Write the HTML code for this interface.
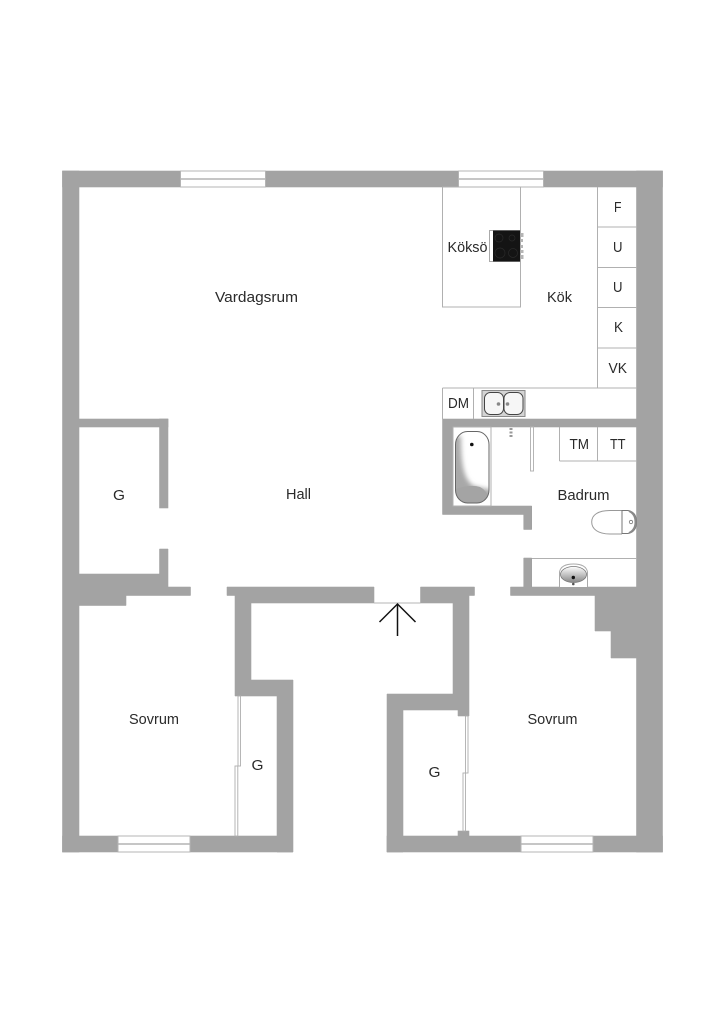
<!DOCTYPE html>
<html>
<head>
<meta charset="utf-8">
<style>
html,body{margin:0;padding:0;background:#fff;width:724px;height:1024px;overflow:hidden}
svg{display:block}
text{font-family:"Liberation Sans",sans-serif;font-size:15px;fill:#2a2a2a}
</style>
</head>
<body>
<svg width="724" height="1024" viewBox="0 0 724 1024" xmlns="http://www.w3.org/2000/svg">
<defs>
<linearGradient id="sk" x1="0" y1="0" x2="0" y2="1">
<stop offset="0" stop-color="#fff"/><stop offset="1" stop-color="#888"/>
</linearGradient>
<filter id="soft" x="-30%" y="-30%" width="160%" height="160%"><feGaussianBlur stdDeviation="2.500"/></filter>
<clipPath id="tubclip"><rect x="455.500" y="431.500" width="33.500" height="71.500" rx="12" ry="13"/></clipPath>
<g id="w">
<!-- outer -->
<rect x="62.500" y="171" width="600" height="16"/>
<rect x="62.500" y="171" width="16.500" height="681"/>
<rect x="636.500" y="171" width="26" height="681"/>
<rect x="62.500" y="836" width="230" height="16"/>
<rect x="387" y="836" width="275.500" height="16"/>
<!-- left closet -->
<rect x="79" y="419" width="89" height="8"/>
<rect x="159.500" y="419" width="8.500" height="89"/>
<polygon points="79,574 159.500,574 159.500,549 168,549 168,587 190.500,587 190.500,595.500 126,595.500 126,605.500 79,605.500"/>
<!-- hall lower -->
<polygon points="227,587 374,587 374,603 251,603 251,680 293,680 293,852 277,852 277,696 235,696 235,595.500 227,595.500"/>
<polygon points="420.500,587 474.500,587 474.500,595.500 469,595.500 469,716 458,716 458,710 403,710 403,852 387,852 387,694 453,694 453,603 420.500,603"/>
<rect x="458" y="831" width="11" height="6"/>
<!-- bath walls -->
<polygon points="442.500,419 637,419 637,427 453,427 453,506 531.700,506 531.700,529.500 523.700,529.500 523.700,514.500 442.500,514.500"/>
<polygon points="523.700,558 531.700,558 531.700,587 637,587 637,595.500 510.500,595.500 510.500,587 523.700,587"/>
<polygon points="595,595 637,595 637,658 611,658 611,631 595,631"/>
</g>
</defs>
<rect width="724" height="1024" fill="#fff"/>

<!-- walls -->
<use href="#w" fill="#969696" stroke="#969696" stroke-width=".5"/>
<use href="#w" fill="#a3a3a3"/>

<!-- windows -->
<g fill="#fff" stroke="#b4b4b4" stroke-width="1">
<rect x="180.500" y="171" width="85" height="16"/>
<rect x="458.500" y="171" width="85" height="16"/>
<rect x="118" y="836" width="72" height="16"/>
<rect x="521" y="836" width="72" height="16"/>
</g>
<g stroke="#b4b4b4" stroke-width="1.500">
<line x1="181" y1="179" x2="265" y2="179"/>
<line x1="459" y1="179" x2="543" y2="179"/>
<line x1="118" y1="844" x2="190" y2="844"/>
<line x1="521" y1="844" x2="593" y2="844"/>
</g>

<!-- kitchen fixtures -->
<g fill="none" stroke="#b0b0b0" stroke-width="1">
<rect x="442.500" y="187" width="78" height="120"/>
<line x1="597.500" y1="187" x2="597.500" y2="388"/>
<line x1="597.500" y1="227" x2="637" y2="227"/>
<line x1="597.500" y1="267.500" x2="637" y2="267.500"/>
<line x1="597.500" y1="307.500" x2="637" y2="307.500"/>
<line x1="597.500" y1="348" x2="637" y2="348"/>
<line x1="442.500" y1="388" x2="637" y2="388"/>
<line x1="442.500" y1="388" x2="442.500" y2="419"/>
<line x1="473.500" y1="388" x2="473.500" y2="419"/>
</g>

<!-- stove -->
<rect x="489.500" y="230.500" width="31" height="31" fill="#fff" stroke="#aaa" stroke-width="1"/>
<rect x="493" y="230.500" width="27" height="31" fill="#141414"/>
<g fill="none" stroke="#2a2a2a" stroke-width=".7">
<circle cx="499" cy="238" r="4"/><circle cx="512" cy="238" r="3"/>
<circle cx="500" cy="253" r="5"/><circle cx="513" cy="253" r="4.500"/>
</g>
<g fill="#b5b5b5">
<rect x="520.500" y="233" width="3" height="4"/><rect x="520.500" y="239" width="2.500" height="3"/>
<rect x="520.500" y="245" width="2.500" height="3"/><rect x="520.500" y="250" width="3" height="3"/><rect x="520.500" y="255" width="3" height="4"/>
</g>

<!-- kitchen sink -->
<rect x="482" y="390.500" width="43" height="26" fill="#d4d4d4" stroke="#8a8a8a" stroke-width="1"/>
<rect x="484.500" y="392.500" width="19" height="22" rx="6" fill="#f6f6f6" stroke="#444" stroke-width="1"/>
<rect x="504" y="392.500" width="19" height="22" rx="6" fill="#f6f6f6" stroke="#444" stroke-width="1"/>
<circle cx="498.500" cy="404" r="1.800" fill="#888"/>
<circle cx="507.500" cy="404" r="1.800" fill="#888"/>

<!-- bathroom -->
<g fill="none" stroke="#b0b0b0" stroke-width="1">
<rect x="453" y="427" width="38" height="79"/>
<line x1="559.500" y1="427" x2="559.500" y2="461"/>
<line x1="559.500" y1="461" x2="637" y2="461"/>
<line x1="597.500" y1="427" x2="597.500" y2="461"/>
<line x1="532" y1="558.500" x2="637" y2="558.500"/>
</g>
<rect x="530.500" y="427" width="3" height="44" fill="#fff" stroke="#b5b5b5" stroke-width="1"/>
<!-- bathtub -->
<rect x="455.500" y="431.500" width="33.500" height="71.500" rx="12" ry="13" fill="#fff"/>
<g clip-path="url(#tubclip)">
<path d="M452 436 L461 436 C461 465 464 480 474 486 L492 490 L492 510 L452 510Z" fill="#a8a8a8" filter="url(#soft)"/>
<path d="M456 489 Q470 484 480 487 Q486 490 489 498 L489 504 L456 504Z" fill="#a4a4a4"/>
</g>
<rect x="455.500" y="431.500" width="33.500" height="71.500" rx="12" ry="13" fill="none" stroke="#666" stroke-width="1"/>
<circle cx="471.800" cy="444.500" r="1.800" fill="#111"/>
<!-- shower fitting -->
<g fill="#999"><rect x="509.500" y="428" width="3" height="2"/><rect x="509.500" y="431.500" width="3" height="2"/><rect x="509.500" y="435" width="3" height="2"/></g>
<!-- toilet -->
<path d="M622 510.500 H610 C598 510.500 591.700 515 591.700 522 C591.700 529 598 534 610 534 H622" fill="#fff" stroke="#999" stroke-width="1"/>
<path d="M622 510.500 V534" stroke="#888" stroke-width="1"/>
<path d="M622 510.500 H628 Q636.500 512 636.500 522 Q636.500 532 628 533.500 H622Z" fill="#fff" stroke="#777" stroke-width="1"/>
<path d="M629 511 Q635.500 514 635.500 522 Q635.500 530 629 533" fill="none" stroke="#8a8a8a" stroke-width="2"/>
<circle cx="631" cy="522" r="1.700" fill="#fff" stroke="#777" stroke-width=".8"/>
<!-- basin -->
<path d="M559.500 587 V572 Q561 564 573.500 564 Q586 564 587.500 572 V587" fill="#fff" stroke="#aaa" stroke-width="1"/>
<ellipse cx="573.500" cy="574.500" rx="13" ry="8" fill="url(#sk)" stroke="#777" stroke-width=".8"/>
<circle cx="573.300" cy="577.500" r="1.700" fill="#111"/>
<circle cx="573.300" cy="584" r="1.300" fill="#555"/>

<!-- sliding doors -->
<g fill="#fff" stroke="#aeaeae" stroke-width=".9">
<rect x="238" y="696" width="2.500" height="70"/>
<rect x="235" y="766" width="2.800" height="70"/>
<rect x="465.500" y="716" width="2.500" height="57"/>
<rect x="463" y="773" width="2.500" height="58"/>
</g>

<!-- entrance -->
<line x1="374" y1="603" x2="420.500" y2="603" stroke="#b5b5b5" stroke-width="1"/>
<g fill="none" stroke="#111" stroke-width="1.500">
<line x1="397.500" y1="604" x2="397.500" y2="636"/>
<polyline points="379.500,622 397.500,604 415.500,622"/>
</g>

<!-- labels -->
<text x="215" y="302" textLength="83" lengthAdjust="spacingAndGlyphs">Vardagsrum</text>
<text x="286" y="499" textLength="25" lengthAdjust="spacingAndGlyphs">Hall</text>
<text x="113" y="500" textLength="12" lengthAdjust="spacingAndGlyphs">G</text>
<text x="447.500" y="252" textLength="40" lengthAdjust="spacingAndGlyphs">Köksö</text>
<text x="547" y="302" textLength="25" lengthAdjust="spacingAndGlyphs">Kök</text>
<text x="614" y="212" textLength="7.500" lengthAdjust="spacingAndGlyphs">F</text>
<text x="613" y="252" textLength="9.500" lengthAdjust="spacingAndGlyphs">U</text>
<text x="613" y="292" textLength="9.500" lengthAdjust="spacingAndGlyphs">U</text>
<text x="614" y="332" textLength="9" lengthAdjust="spacingAndGlyphs">K</text>
<text x="608.500" y="373" textLength="18.500" lengthAdjust="spacingAndGlyphs">VK</text>
<text x="448" y="408" textLength="21" lengthAdjust="spacingAndGlyphs">DM</text>
<text x="569.500" y="449" textLength="19.500" lengthAdjust="spacingAndGlyphs">TM</text>
<text x="610" y="449" textLength="15.500" lengthAdjust="spacingAndGlyphs">TT</text>
<text x="557.500" y="500" textLength="52" lengthAdjust="spacingAndGlyphs">Badrum</text>
<text x="129" y="724" textLength="50" lengthAdjust="spacingAndGlyphs">Sovrum</text>
<text x="527.500" y="724" textLength="50" lengthAdjust="spacingAndGlyphs">Sovrum</text>
<text x="251.500" y="770" textLength="12" lengthAdjust="spacingAndGlyphs">G</text>
<text x="428.500" y="777" textLength="12" lengthAdjust="spacingAndGlyphs">G</text>
</svg>
</body>
</html>
